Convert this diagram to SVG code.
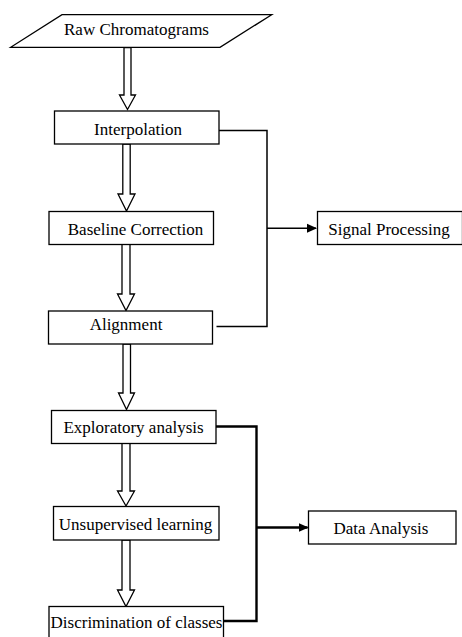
<svg xmlns="http://www.w3.org/2000/svg" width="462" height="637" viewBox="0 0 462 637">
<style>
.box{fill:#fff;stroke:#000;stroke-width:1.3}
.t{font-family:"Liberation Serif","Times New Roman",serif;font-size:17px;fill:#000;text-anchor:middle}
.blk{fill:#fff;stroke:#000;stroke-width:1.3;stroke-linejoin:miter}
.c1{fill:none;stroke:#000;stroke-width:1.5}
.c2{fill:none;stroke:#000;stroke-width:2.4}
</style>
<defs>
<marker id="ah" markerWidth="10" markerHeight="10" refX="9" refY="5" orient="auto" markerUnits="userSpaceOnUse">
<path d="M0,0.5 L10,5 L0,9.5 Z" fill="#000"/>
</marker>
</defs>
<rect width="462" height="637" fill="#fff"/>
<g id="connectors">
<polygon class="blk" points="124,47.5 131,47.5 131,95 135.5,95 127.5,109.5 119.5,95 124,95"/>
<polygon class="blk" points="122.8,144 130.2,144 130.2,194 135,194 126.5,211 118,194 122.8,194"/>
<polygon class="blk" points="122,244 130,244 130,294 134.5,294 126,310.5 117.5,294 122,294"/>
<polygon class="blk" points="123,344 130.5,344 130.5,393 134.5,393 126.5,409.5 118.5,393 123,393"/>
<polygon class="blk" points="122,443 130,443 130,491 134.5,491 126,506 117.5,491 122,491"/>
<polygon class="blk" points="122,540 130,540 130,590 134.5,590 126,606.5 117.5,590 122,590"/>
<polyline class="c1" points="219,130.5 267,130.5 267,326.5 216.5,326.5"/>
<line class="c1" x1="267" y1="228.3" x2="316" y2="228.3" marker-end="url(#ah)"/>
<polyline class="c2" points="216,426.5 256.5,426.5 256.5,621 223.5,621"/>
<line class="c2" x1="256.5" y1="527.5" x2="307.5" y2="527.5" marker-end="url(#ah)"/>
</g>
<g id="raw">
<polygon class="box" points="62,14.7 271.7,14.7 220,47.3 10.7,47.3"/>
<text class="t" x="136.5" y="35">Raw Chromatograms</text>
</g>
<g id="interpolation">
<rect class="box" x="54.5" y="111" width="164.5" height="33"/>
<text class="t" x="138" y="135">Interpolation</text>
</g>
<g id="baseline">
<rect class="box" x="49" y="211.5" width="164.5" height="33"/>
<text class="t" x="135.5" y="235">Baseline Correction</text>
</g>
<g id="alignment">
<rect class="box" x="48.5" y="311" width="164" height="33"/>
<text class="t" x="126" y="330">Alignment</text>
</g>
<g id="signal">
<rect class="box" x="317.5" y="211.5" width="145" height="33"/>
<text class="t" x="389" y="235">Signal Processing</text>
</g>
<g id="exploratory">
<rect class="box" x="51.5" y="410.5" width="164.5" height="33"/>
<text class="t" x="133.5" y="432.5">Exploratory analysis</text>
</g>
<g id="unsupervised">
<rect class="box" x="53.5" y="506.5" width="165.5" height="33.5"/>
<text class="t" x="135.5" y="529.5">Unsupervised learning</text>
</g>
<g id="discrimination">
<rect class="box" x="49" y="606.5" width="174.5" height="40"/>
<text class="t" x="136.5" y="627.5">Discrimination of classes</text>
</g>
<g id="data">
<rect class="box" x="308.5" y="511" width="147.5" height="33"/>
<text class="t" x="381" y="533.5">Data Analysis</text>
</g>
</svg>
